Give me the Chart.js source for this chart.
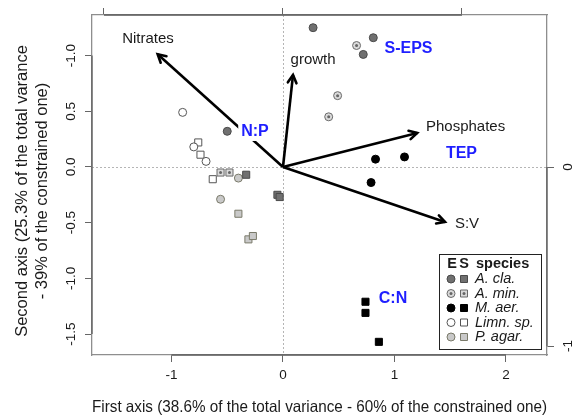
<!DOCTYPE html>
<html>
<head>
<meta charset="utf-8">
<script src="https://cdn.jsdelivr.net/npm/chart.js@4/dist/chart.umd.min.js"></script>
<style>
  html, body { margin: 0; padding: 0; background: #fff; }
</style>
</head>
<body>
<canvas id="rdaPlot" width="585" height="418"></canvas>
<script>
// axis ticks (left labels copied as printed on the original figure)
const xTicks = [-1, 0, 1, 2];
const yTicks = [-1.5, -1, -0.5, 0, 0.5, 1];
const yTickLabels = ['-1.5', '-1.0', '-0.5', '0.0', '0.5', '-1.0'];
const arrowXTicks = [-1, 0, 1];
const arrowYTicks = [-1, 0];
const arrowYTickLabels = ['-1', '0'];
const yTitle = ['Second axis (25.3% of the total varance', '- 39% of the constrained one)'];
const xTitle = 'First axis (38.6% of the total variance - 60% of the constrained one)';

// species scores: E = circles, S = squares
const species = ['A. cla.', 'A. min.', 'M. aer.', 'Limn. sp.', 'P. agar.'];
const claE = [[0.27, 1.25], [0.81, 1.16], [0.72, 1.01], [-0.50, 0.32]];
const claS = [[-0.33, -0.07], [-0.05, -0.25], [-0.03, -0.27]];
const minE = [[0.66, 1.09], [0.49, 0.64], [0.41, 0.45]];
const minS = [[-0.56, -0.05], [-0.48, -0.05]];
const aerE = [[0.83, 0.07], [1.09, 0.09], [0.79, -0.14]];
const aerS = [[0.74, -1.21], [0.74, -1.31], [0.86, -1.57]];
const limE = [[-0.90, 0.49], [-0.80, 0.18], [-0.69, 0.05]];
const limS = [[-0.76, 0.22], [-0.74, 0.11], [-0.63, -0.11]];
const agaE = [[-0.40, -0.10], [-0.56, -0.29]];
const agaS = [[-0.40, -0.42], [-0.31, -0.65], [-0.27, -0.62]];

// explanatory arrows (top / right scale)
const arrowNames = ['Nitrates', 'growth', 'Phosphates', 'S:V'];
const arrowX = [-0.70, 0.056, 0.75, 0.905];
const arrowY = [0.63, 0.514, 0.19, -0.307];
const arrowLabelX = [-0.754, 0.168, 1.02, 1.028];
const arrowLabelY = [0.715, 0.598, 0.223, -0.318];

// response variables (blue)
const responseNames = ['S-EPS', 'TEP', 'N:P', 'C:N'];
const responseX = [1.126, 1.601, -0.251, 0.987];
const responseY = [1.059, 0.117, 0.314, -1.185];

const speciesFill = ['#707070', '#dadada', '#000000', '#ffffff', '#c9c9c9'];
const speciesEdge = ['#4a4a4a', '#6a6a6a', '#000000', '#555555', '#7a7a6a'];
const FONT = '"Liberation Sans", Arial, sans-serif';
const TXT = '#1a1a1a';

const pts = arr => arr.map(p => ({ x: p[0], y: p[1] }));
const fixTicks = vals => scale => { scale.ticks = vals.map(v => ({ value: v })); };

const groups = [[claE, claS], [minE, minS], [aerE, aerS], [limE, limS], [agaE, agaS]];
const datasets = [];
groups.forEach((g, i) => {
  datasets.push({ label: species[i] + ' E', data: pts(g[0]), pointStyle: 'circle', pointRadius: 4,
    backgroundColor: speciesFill[i], borderColor: speciesEdge[i], borderWidth: 1, order: 2 });
  datasets.push({ label: species[i] + ' S', data: pts(g[1]), pointStyle: 'rect', pointRadius: 5,
    backgroundColor: speciesFill[i], borderColor: speciesEdge[i], borderWidth: 1, order: 2 });
});
// inner dots of A. min.
datasets.push({ label: 'dotE', data: pts(minE), pointRadius: 1.5, backgroundColor: '#666', borderWidth: 0, order: 1 });
datasets.push({ label: 'dotS', data: pts(minS), pointRadius: 1.5, backgroundColor: '#666', borderWidth: 0, order: 1 });

arrowNames.forEach((n, i) => {
  datasets.push({ label: n, isArrow: true, type: 'line', xAxisID: 'x2', yAxisID: 'y2',
    data: [{ x: 0, y: 0 }, { x: arrowX[i], y: arrowY[i] }],
    borderColor: '#000', borderWidth: 2.6, pointRadius: 0, order: 5 });
});

function drawSym(ctx, i, shape, x, y) {
  ctx.fillStyle = speciesFill[i];
  ctx.strokeStyle = speciesEdge[i];
  ctx.lineWidth = 1;
  ctx.beginPath();
  if (shape === 'c') ctx.arc(x, y, 4, 0, Math.PI * 2);
  else ctx.rect(x - 3.5, y - 3.5, 7, 7);
  ctx.fill(); ctx.stroke();
  if (i === 1) {
    ctx.fillStyle = '#666';
    ctx.beginPath(); ctx.arc(x, y, 1.5, 0, Math.PI * 2); ctx.fill();
  }
}

const biplotDecor = {
  id: 'biplotDecor',
  beforeDatasetsDraw(chart) {
    const { ctx, chartArea: a, scales } = chart;
    const x0 = Math.round(scales.x.getPixelForValue(0)) + 0.5;
    const y0 = Math.round(scales.y.getPixelForValue(0)) + 0.5;
    ctx.save();
    ctx.strokeStyle = '#b5b5b5';
    ctx.lineWidth = 1;
    ctx.setLineDash([2, 2]);
    ctx.beginPath();
    ctx.moveTo(x0, a.top); ctx.lineTo(x0, a.bottom);
    ctx.moveTo(a.left, y0); ctx.lineTo(a.right, y0);
    ctx.stroke();
    ctx.restore();
  },
  afterDatasetsDraw(chart) {
    const { ctx, scales } = chart;
    ctx.save();
    // arrow heads
    chart.data.datasets.forEach((ds, i) => {
      if (!ds.isArrow) return;
      const el = chart.getDatasetMeta(i).data;
      const p0 = el[0], p1 = el[1];
      const ang = Math.atan2(p1.y - p0.y, p1.x - p0.x);
      const len = 9, spread = 0.5;
      ctx.strokeStyle = '#000';
      ctx.lineWidth = 2.6;
      ctx.lineCap = 'round';
      ctx.beginPath();
      ctx.moveTo(p1.x - len * Math.cos(ang - spread), p1.y - len * Math.sin(ang - spread));
      ctx.lineTo(p1.x, p1.y);
      ctx.lineTo(p1.x - len * Math.cos(ang + spread), p1.y - len * Math.sin(ang + spread));
      ctx.stroke();
    });
    ctx.textAlign = 'center';
    ctx.textBaseline = 'middle';
    ctx.fillStyle = TXT;
    ctx.font = '15px ' + FONT;
    arrowNames.forEach((n, i) => {
      ctx.fillText(n, scales.x2.getPixelForValue(arrowLabelX[i]), scales.y2.getPixelForValue(arrowLabelY[i]));
    });
    ctx.font = 'bold 16px ' + FONT;
    responseNames.forEach((n, i) => {
      const px = scales.x.getPixelForValue(responseX[i]);
      const py = scales.y.getPixelForValue(responseY[i]);
      const w = ctx.measureText(n).width;
      ctx.fillStyle = '#fff';
      ctx.fillRect(px - w / 2 - 3, py - 9, w + 6, 18);
      ctx.fillStyle = '#1f1fff';
      ctx.fillText(n, px, py);
    });
    ctx.restore();
  },
  afterDraw(chart) {
    const { ctx, chartArea: a, scales } = chart;
    ctx.save();
    // darker axis lines over the tick range, as R draws them
    ctx.strokeStyle = '#5e5e5e';
    ctx.lineWidth = 1.3;
    ctx.beginPath();
    ctx.moveTo(scales.x.getPixelForValue(xTicks[0]), a.bottom);
    ctx.lineTo(scales.x.getPixelForValue(xTicks[xTicks.length - 1]), a.bottom);
    ctx.moveTo(a.left, scales.y.getPixelForValue(yTicks[0]));
    ctx.lineTo(a.left, scales.y.getPixelForValue(yTicks[yTicks.length - 1]));
    ctx.moveTo(scales.x2.getPixelForValue(arrowXTicks[0]), a.top);
    ctx.lineTo(scales.x2.getPixelForValue(arrowXTicks[arrowXTicks.length - 1]), a.top);
    ctx.moveTo(a.right, scales.y2.getPixelForValue(arrowYTicks[0]));
    ctx.lineTo(a.right, scales.y2.getPixelForValue(arrowYTicks[arrowYTicks.length - 1]));
    ctx.stroke();

    ctx.fillStyle = TXT;
    ctx.textAlign = 'center';
    ctx.textBaseline = 'middle';
    const rotText = (t, x, y) => {
      ctx.save(); ctx.translate(x, y); ctx.rotate(-Math.PI / 2); ctx.fillText(t, 0, 0); ctx.restore();
    };
    ctx.font = '13.5px ' + FONT;
    yTicks.forEach((v, i) => rotText(yTickLabels[i], a.left - 21, scales.y.getPixelForValue(v)));
    arrowYTicks.forEach((v, i) => rotText(arrowYTickLabels[i], a.right + 21, scales.y2.getPixelForValue(v)));
    ctx.font = '16.5px ' + FONT;
    yTitle.forEach((t, i) => rotText(t, 22 + i * 20, (a.top + a.bottom) / 2 + 6));

    // legend box
    const w = 102, h = 95;
    const bx = a.right - 6 - w, by = a.bottom - 6 - h;
    ctx.fillStyle = '#fff';
    ctx.fillRect(bx, by, w, h);
    ctx.strokeStyle = '#222';
    ctx.lineWidth = 1;
    ctx.strokeRect(Math.round(bx) + 0.5, Math.round(by) + 0.5, w, h);
    ctx.fillStyle = TXT;
    ctx.font = 'bold 14.5px ' + FONT;
    ctx.fillText('E', bx + 13, by + 10);
    ctx.fillText('S', bx + 25, by + 10);
    ctx.textAlign = 'left';
    ctx.fillText('species', bx + 37, by + 10);
    ctx.font = 'italic 14.5px ' + FONT;
    species.forEach((s, i) => {
      const ry = by + 25 + i * 14.5;
      drawSym(ctx, i, 'c', bx + 12, ry);
      drawSym(ctx, i, 's', bx + 25, ry);
      ctx.fillStyle = TXT;
      ctx.fillText(s, bx + 36, ry);
    });
    ctx.restore();
  }
};

const gridTicks = { drawOnChartArea: false, drawTicks: true, tickLength: 7, tickColor: '#666', tickWidth: 1 };
const boxBorder = { display: true, color: '#8e8e8e', width: 1.3 };

new Chart(document.getElementById('rdaPlot').getContext('2d'), {
  type: 'scatter',
  data: { datasets: datasets },
  options: {
    responsive: false,
    animation: false,
    layout: { padding: 0 },
    plugins: { legend: { display: false }, tooltip: { enabled: false } },
    scales: {
      x: {
        type: 'linear', position: 'bottom', min: -1.713, max: 2.368,
        afterBuildTicks: fixTicks(xTicks),
        afterFit: s => { s.height = 63; },
        grid: gridTicks, border: boxBorder,
        ticks: { color: TXT, padding: 5, font: { family: FONT, size: 13.5 } },
        title: {
          display: true, color: TXT, padding: { top: 0, bottom: 1 },
          text: xTitle,
          font: { family: FONT, size: 16.5, lineHeight: 1.2 }
        }
      },
      y: {
        type: 'linear', position: 'left', min: -1.688, max: 1.364,
        afterBuildTicks: fixTicks(yTicks),
        afterFit: s => { s.width = 92; },
        grid: gridTicks, border: boxBorder,
        ticks: { display: false }
      },
      x2: {
        type: 'linear', axis: 'x', position: 'top', min: -1.067, max: 1.475,
        afterBuildTicks: fixTicks(arrowXTicks),
        afterFit: s => { s.height = 15; },
        grid: gridTicks, border: boxBorder,
        ticks: { display: false }
      },
      y2: {
        type: 'linear', axis: 'y', position: 'right', min: -1.050, max: 0.849,
        afterBuildTicks: fixTicks(arrowYTicks),
        afterFit: s => { s.width = 38; },
        grid: gridTicks, border: boxBorder,
        ticks: { display: false }
      }
    }
  },
  plugins: [biplotDecor]
});
</script>
</body>
</html>
